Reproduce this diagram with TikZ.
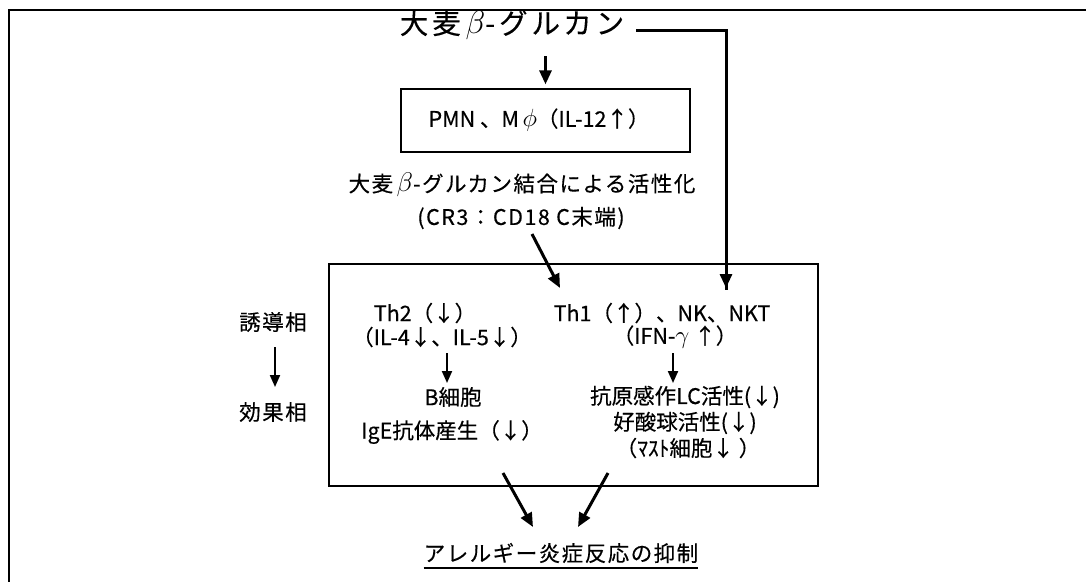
\documentclass[tikz,border=0pt]{standalone}
\usepackage{fontspec}
\usepackage{graphicx}
\setmainfont{Noto Sans CJK JP}[FakeBold=0.35]
\newfontfamily\widefont{Noto Sans CJK JP}[FakeBold=0.35,LetterSpace=7]
\newfontfamily\titlefont{Noto Sans CJK JP}[FakeBold=0.35,LetterSpace=14]
\newcommand{\mybeta}{\,\raisebox{0pt}{\scalebox{1.3}{$\beta$}}}
\newcommand{\myphi}{\scalebox{1.2}{$\phi$}}
\newcommand{\mygamma}{\scalebox{1.2}{$\gamma$}}
\usetikzlibrary{arrows.meta}
\tikzset{
  txt/.style={inner sep=0pt, font=\fontsize{21.5}{25}\selectfont},
  wtxt/.style={inner sep=0pt, font=\fontsize{21.5}{25}\selectfont\widefont},
  big/.style={inner sep=0pt, font=\fontsize{28.5}{32}\selectfont\titlefont},
  boxed/.style={draw, line width=1.3pt, inner sep=0pt},
  arr/.style={line width=3pt, -{Triangle[length=14pt,width=12pt]}},
  thinarr/.style={line width=2pt, -{Triangle[length=12pt,width=10pt]}},
  frame/.style={line width=1.6pt}
}
\begin{document}
\begin{tikzpicture}[x=1pt,y=-1pt]
\useasboundingbox (0,0) rectangle (1086,582);
% frame (top and left edges only)
\draw[frame] (1086,10) -- (9,10) -- (9,582);
% nodes
\node[big] (title) at (512,25) {大麦\mybeta-グルカン};
\node[boxed, minimum width=289pt, minimum height=63pt] (pmn) at (545.5,120.5) {};
\node[txt] (pmntxt) at (539,120) {PMN 、M\,\myphi（IL-12↑）};
\node[wtxt] (act) at (522,185) {大麦\mybeta-グルカン結合による活性化};
\node[wtxt] (cr3) at (521,218) {(CR3：CD18 C末端)};
\node[boxed, minimum width=489pt, minimum height=222pt] (main) at (573.5,375) {};
\node[txt] (th2) at (425,313) {Th2（↓）};
\node[txt] (il4) at (442,337) {（IL-4↓、IL-5↓）};
\node[txt] (bcell) at (453,397) {B細胞};
\node[txt] (ige) at (452,432) {IgE抗体産生（↓）};
\node[txt] (th1) at (662,313) {Th1（↑）、NK、NKT};
\node[txt] (ifn) at (675,337) {（IFN-\mygamma\ ↑）};
\node[txt] (lc) at (685,397) {抗原感作LC活性(↓)};
\node[txt] (eos) at (685,423) {好酸球活性(↓)};
\node[txt] (mast) at (688,448) {（ﾏｽﾄ細胞↓ ）};
\node[wtxt] (ind) at (273,322) {誘導相};
\node[wtxt] (eff) at (273,412) {効果相};
\node[wtxt] (sup) at (561,553) {アレルギー炎症反応の抑制};
% coordinates for connector ends
\coordinate (nktip) at (726,288);
\coordinate (crs) at (532,234);
\coordinate (crt) at (560,288);
\coordinate (l1s) at (503,473);
\coordinate (l1t) at (533,527);
\coordinate (r1s) at (608,473);
\coordinate (r1t) at (578,527);
% connectors
\draw[arr] ([yshift=-31pt]title.center -| pmn.north) -- ([yshift=4pt]pmn.north);
\draw[line width=3pt] ([xshift=12pt,yshift=-5pt]title.east) -| ([yshift=-2pt]nktip);
\draw[arr] (nktip) ++(0,-14) -- (nktip);
\draw[arr] (crs) -- (crt);
\draw[thinarr] (ind.center) ++(2,25) -- ([xshift=2pt,yshift=25pt]eff.center);
\draw[thinarr] ([xshift=5pt,yshift=-16pt]il4.center) -- ([xshift=-6pt,yshift=14pt]bcell.center);
\draw[thinarr] ([xshift=-2pt,yshift=-16pt]ifn.center) -- ([xshift=-12pt,yshift=14pt]lc.center);
\draw[arr] (l1s) -- (l1t);
\draw[arr] (r1s) -- (r1t);
\draw[line width=1.6pt] ([yshift=-5pt]sup.south west) -- ([yshift=-5pt]sup.south east);
\end{tikzpicture}
\end{document}
